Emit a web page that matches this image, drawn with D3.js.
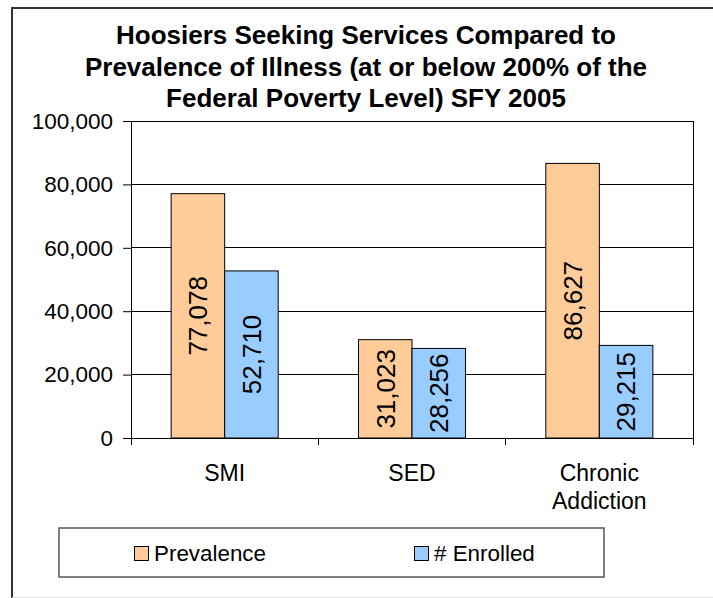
<!DOCTYPE html>
<html>
<head>
<meta charset="utf-8">
<script src="https://cdn.jsdelivr.net/npm/d3@7"></script>
<style>
  html, body { margin: 0; padding: 0; background: #fff; }
  svg { display: block; font-family: Arial, "Liberation Sans", sans-serif; }
</style>
</head>
<body>
<svg id="chart" width="713" height="598"></svg>
<script>
// Chart data
const categories = ["SMI", "SED", "Chronic Addiction"];
const categoryLines = [["SMI"], ["SED"], ["Chronic", "Addiction"]];
const seriesNames = ["Prevalence", "# Enrolled"];
const prevalence = [77078, 31023, 86627];
const enrolled = [52710, 28256, 29215];
const yTicks = [0, 20000, 40000, 60000, 80000, 100000];
const titleLines = [
  "Hoosiers Seeking Services Compared to",
  "Prevalence of Illness (at or below 200% of the",
  "Federal Poverty Level) SFY 2005"
];
const colors = ["#FFCC99", "#99CCFF"];

const svg = d3.select("#chart");
const margin = { left: 131, right: 20, top: 121, bottom: 160 };
const plotW = 693 - margin.left;
const plotH = 438 - margin.top;

// Outer chart frame (runs off the right and bottom edges)
svg.append("path")
  .attr("d", "M12,730 L12,8 L740,8")
  .attr("fill", "none").attr("stroke", "#333").attr("stroke-width", 2);
svg.append("line").attr("x1", 12).attr("x2", 713).attr("y1", 597.5).attr("y2", 597.5)
  .attr("stroke", "#e4e4e4").attr("stroke-width", 1);

// Title
svg.append("g").selectAll("text").data(titleLines).join("text")
  .attr("x", 366).attr("y", (d, i) => 44 + i * 31.5)
  .attr("text-anchor", "middle")
  .attr("font-size", 26).attr("font-weight", "bold")
  .text(d => d);

const g = svg.append("g").attr("transform", `translate(${margin.left},${margin.top})`);

const x0 = d3.scaleBand().domain(categories).range([0, plotW]).paddingInner(0).paddingOuter(0);
const x1 = d3.scaleBand().domain(seriesNames).range([0, x0.bandwidth()]).paddingInner(0).paddingOuter(0.75);
const y = d3.scaleLinear().domain([0, 100000]).range([plotH, 0]);

// Gridlines
g.append("g").selectAll("line").data(yTicks).join("line")
  .attr("x1", 0).attr("x2", plotW)
  .attr("y1", d => y(d)).attr("y2", d => y(d))
  .attr("stroke", "#000").attr("stroke-width", 1).attr("shape-rendering", "crispEdges");

// Plot right border
g.append("line").attr("x1", plotW).attr("x2", plotW).attr("y1", 0).attr("y2", plotH)
  .attr("stroke", "#000").attr("shape-rendering", "crispEdges");

// Y axis
const yAxis = d3.axisLeft(y).tickValues(yTicks).tickSize(8).tickPadding(10)
  .tickFormat(d3.format(","));
const ya = g.append("g").call(yAxis);
ya.select(".domain").attr("stroke", "#000");
ya.selectAll("line").attr("stroke", "#000");
ya.selectAll("text").attr("font-size", 22.5).attr("font-family", "Arial, 'Liberation Sans', sans-serif").attr("fill", "#000");

// X axis with ticks between categories
const xa = g.append("g").attr("transform", `translate(0,${plotH})`);
xa.append("line").attr("x1", 0).attr("x2", plotW).attr("y1", 0).attr("y2", 0)
  .attr("stroke", "#000").attr("shape-rendering", "crispEdges");
const tickXs = categories.map(c => x0(c)).concat([plotW]);
xa.selectAll("line.tick").data(tickXs).join("line").attr("class", "tick")
  .attr("x1", d => d).attr("x2", d => d).attr("y1", 0).attr("y2", 7)
  .attr("stroke", "#000").attr("shape-rendering", "crispEdges");
xa.selectAll("text.cat").data(categories).join("text").attr("class", "cat")
  .attr("text-anchor", "middle")
  .attr("font-size", 23)
  .each(function (d, i) {
    const t = d3.select(this);
    categoryLines[i].forEach((line, j) => {
      t.append("tspan").attr("x", x0(d) + x0.bandwidth() / 2).attr("y", 43 + j * 28).text(line);
    });
  });

// Bars
const rows = categories.map((c, i) => ({ cat: c, values: [prevalence[i], enrolled[i]] }));
const groups = g.append("g").selectAll("g").data(rows).join("g")
  .attr("transform", d => `translate(${x0(d.cat)},0)`);

groups.selectAll("rect").data(d => d.values.map((v, k) => ({ name: seriesNames[k], v, k }))).join("rect")
  .attr("x", d => x1(d.name))
  .attr("width", x1.bandwidth())
  .attr("y", d => y(d.v))
  .attr("height", d => plotH - y(d.v))
  .attr("fill", d => colors[d.k])
  .attr("stroke", "#000").attr("stroke-width", 1);

// Value labels, rotated and centred in each bar
groups.selectAll("text").data(d => d.values.map((v, k) => ({ name: seriesNames[k], v, k }))).join("text")
  .attr("transform", d => `translate(${x1(d.name) + x1.bandwidth() / 2},${(y(d.v) + plotH) / 2}) rotate(-90)`)
  .attr("text-anchor", "middle").attr("dy", "0.36em")
  .attr("font-size", 26)
  .text(d => d3.format(",")(d.v));

// Legend
const legend = svg.append("g");
legend.append("rect").attr("x", 59).attr("y", 528).attr("width", 545).attr("height", 49)
  .attr("fill", "#fff").attr("stroke", "#555").attr("stroke-width", 1.5);
const legendX = [134, 414];
seriesNames.forEach((name, k) => {
  legend.append("rect").attr("x", legendX[k] + 0.5).attr("y", 546.5).attr("width", 14).attr("height", 14)
    .attr("fill", colors[k]).attr("stroke", "#000").attr("stroke-width", 1);
  legend.append("text").attr("x", legendX[k] + 20).attr("y", 561)
    .attr("font-size", 22.4).text(name);
});
</script>
</body>
</html>
